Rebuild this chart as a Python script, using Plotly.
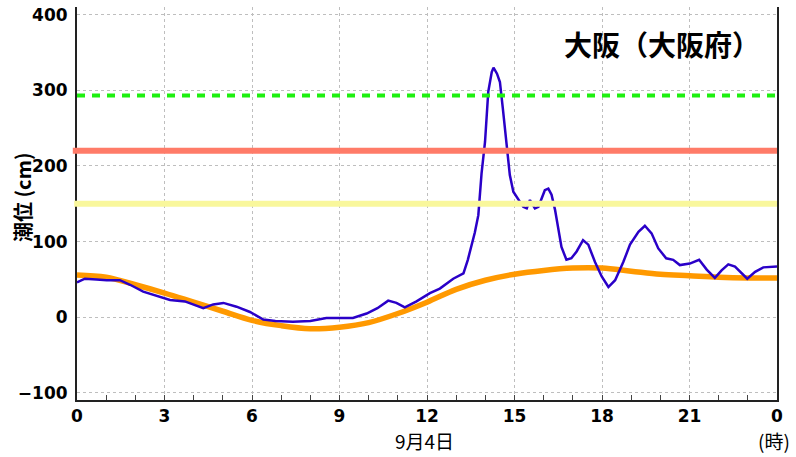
import plotly.graph_objects as go

# observed tide (blue), hours since 0:00 on 9/4
OBS_HOURS = [0.0, 0.27, 0.67, 1.02, 1.47, 1.82, 2.27, 2.73, 3.19, 3.7, 4.1, 4.33,
             4.67, 5.02, 5.47, 5.93, 6.39, 6.8, 7.4, 8.0, 8.55, 8.9, 9.46, 9.93,
             10.3, 10.67, 10.95, 11.24, 11.64, 12.1, 12.44, 12.9, 13.25, 13.4,
             13.53, 13.64, 13.76, 13.87, 13.99, 14.1, 14.22, 14.28, 14.4, 14.5,
             14.6, 14.73, 14.84, 14.96, 15.13, 15.3, 15.42, 15.53, 15.7, 15.82,
             15.93, 16.04, 16.16, 16.27, 16.39, 16.5, 16.61, 16.78, 16.95, 17.13,
             17.35, 17.53, 17.76, 17.99, 18.22, 18.45, 18.73, 18.96, 19.25, 19.47,
             19.7, 19.93, 20.2, 20.44, 20.67, 21.01, 21.33, 21.59, 21.87, 22.1,
             22.33, 22.56, 22.79, 22.98, 23.25, 23.53, 24.0]
OBS_CM = [46, 51, 50, 49, 49, 43, 34, 29, 23, 21, 15, 12,
          17, 19, 14, 7, -3, -5, -6, -5, -1, -1, -1, 5,
          12, 22, 19, 13, 21, 32, 38, 51, 58, 76,
          96, 112, 135, 190, 232, 298, 324, 330, 322, 311,
          276, 228, 188, 166, 156, 146, 144, 155, 144, 146,
          157, 168, 170, 162, 142, 119, 93, 76, 78, 87,
          102, 96, 73, 54, 40, 49, 73, 96, 113, 121,
          111, 91, 78, 76, 69, 71, 76, 63, 52, 62,
          70, 67, 58, 51, 60, 66, 67]

# astronomical tide (orange), hourly
ASTRO_HOURS = list(range(25))
ASTRO_CM = [56, 53, 43, 32, 20, 8, -4, -11, -15, -13, -7, 5, 20,
            37, 49, 57, 62, 65, 65, 61, 57, 55, 53, 52, 52]

# reference levels (cm)
LEVEL_GREEN = 293
LEVEL_RED = 220
LEVEL_YELLOW = 150

X_TICKS = [0, 3, 6, 9, 12, 15, 18, 21, 24]
X_TICK_TEXT = ["0", "3", "6", "9", "12", "15", "18", "21", "0"]
Y_TICKS = [-100, 0, 100, 200, 300, 400]

FONT = "DejaVu Sans"
JP_FONT = "Noto Sans CJK JP"

fig = go.Figure()

fig.add_hline(y=LEVEL_GREEN, line=dict(color="#1EF010", width=4, dash="8px,7px"))
fig.add_hline(y=LEVEL_RED, x0=-0.006, line=dict(color="#FF7B68", width=6))
fig.add_hline(y=LEVEL_YELLOW, x0=-0.004, line=dict(color="#F9F79C", width=6))

fig.add_trace(go.Scatter(
    x=ASTRO_HOURS, y=ASTRO_CM, mode="lines", line_shape="spline",
    line=dict(color="#FF9900", width=5.5), showlegend=False, hoverinfo="skip"
))
fig.add_trace(go.Scatter(
    x=OBS_HOURS, y=OBS_CM, mode="lines",
    line=dict(color="#2A00C8", width=2.5), showlegend=False
))

fig.update_layout(
    width=796, height=457,
    margin=dict(l=77, r=19, t=7, b=57, autoexpand=False),
    plot_bgcolor="white", paper_bgcolor="white",
    font=dict(family=FONT, size=16, color="black"),
    showlegend=False,
)

fig.update_xaxes(
    range=[0, 24], tickvals=X_TICKS, ticktext=X_TICK_TEXT,
    tickfont=dict(family=FONT, size=17, weight="bold"),
    showgrid=True, gridcolor="#BEBEBE", griddash="3px,3px", gridwidth=1,
    showline=True, linecolor="#222222", linewidth=2,
    ticks="inside", ticklen=5, tickcolor="#444444",
    minor=dict(dtick=1, ticks="inside", ticklen=5, tickcolor="#444444", showgrid=False),
    zeroline=False, automargin=False,
)
fig.update_yaxes(
    range=[-109.3, 410.1], tickvals=Y_TICKS,
    tickfont=dict(family=FONT, size=17, weight="bold"),
    showgrid=True, gridcolor="#BEBEBE", griddash="3px,3px", gridwidth=1,
    showline=True, linecolor="#222222", linewidth=2, mirror=True,
    ticks="", ticklabelstandoff=4,
    zeroline=False, automargin=False,
)

fig.add_annotation(
    text="大阪（大阪府）", xref="paper", yref="paper", x=0.979, y=0.907,
    xanchor="right", yanchor="middle", showarrow=False,
    font=dict(family=JP_FONT, size=28, weight="bold", color="black"),
)
fig.add_annotation(
    text="潮位 (cm)", xref="paper", yref="paper", x=-0.078, y=0.515,
    xanchor="center", yanchor="middle", textangle=-90, showarrow=False,
    font=dict(family=JP_FONT, size=20, weight="bold", color="black"),
)
fig.add_annotation(
    text="9月4日", xref="paper", yref="paper", x=0.496, y=-0.102,
    xanchor="center", yanchor="middle", showarrow=False,
    font=dict(family=JP_FONT, size=19, color="black"),
)
fig.add_annotation(
    text="(時)", xref="paper", yref="paper", x=1.021, y=-0.102,
    xanchor="right", yanchor="middle", showarrow=False,
    font=dict(family=JP_FONT, size=19, color="black"),
)

# drop the default 8px page margin so the figure fills the window exactly
fig.write_html(
    "out.html",
    config={"displayModeBar": False},
    post_script="document.body.style.margin = '0';",
)
